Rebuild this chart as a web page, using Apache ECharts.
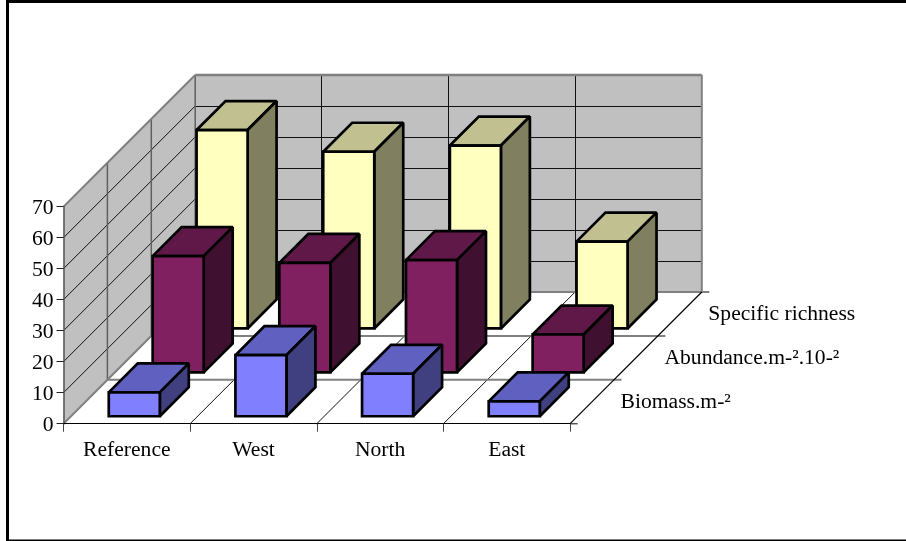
<!DOCTYPE html>
<html>
<head>
<meta charset="utf-8">
<style>html,body{margin:0;padding:0;background:#fff}#chart{width:906px;height:541px}</style>
<script src="https://cdn.jsdelivr.net/npm/echarts@6/dist/echarts.min.js"></script>
</head>
<body>
<div id="chart"></div>
<script>
// Sampling stations and the three measured variables
const categories = ['Reference', 'West', 'North', 'East'];
const seriesNames = ['Biomass.m-²', 'Abundance.m-².10-²', 'Specific richness'];
const biomass = [7.7, 19.7, 13.7, 4.8];
const abundance = [37.5, 35.3, 36.2, 12.2];
const richness = [64, 57, 59, 28];
const valueTicks = { min: 0, max: 70, interval: 10 };

// Oblique projection: one row of depth shifts right and up by the same amount
const ROW_DEPTH = 43.9;
const ROWS = 3;
const BAR_WIDTH_RATIO = 0.403;
const BAR_DEPTH_RATIO = 0.66;
const FONT = '"Liberation Serif", "Times New Roman", serif';
const FONT_SIZE = 21.6;

const palette = [
  { front: '#8080ff', top: '#6060c0', side: '#404080' },
  { front: '#802060', top: '#601848', side: '#401030' },
  { front: '#ffffc0', top: '#c0c090', side: '#808060' }
];

const line = (x1, y1, x2, y2, stroke, lineWidth) => ({
  type: 'line', silent: true,
  shape: { x1, y1, x2, y2 },
  style: { stroke, lineWidth, fill: null }
});
const poly = (points, fill, stroke, lineWidth) => ({
  type: 'polygon', silent: true,
  shape: { points },
  style: { fill, stroke, lineWidth, lineJoin: 'miter', miterLimit: 2 }
});
// Centre a thin straight line on a pixel row or column so it stays crisp
const snapRound = (p) => Math.round(p) + 0.5;
const snapFloor = (p) => Math.floor(p) + 0.5;

// Walls, floor and their gridlines, all placed from the axes' scales
function renderBox(params, api) {
  const cs = params.coordSys;
  const D = ROW_DEPTH * ROWS;
  const x0 = cs.x, x1 = cs.x + cs.width;
  const y0 = api.coord([0, valueTicks.min])[1];
  const yTop = api.coord([0, valueTicks.max])[1];
  const step = cs.width / categories.length;
  const kids = [];

  kids.push(poly([[x0, y0], [x1, y0], [x1 + D, y0 - D], [x0 + D, y0 - D]], '#ffffff', null, 0));
  kids.push(poly([[x0 + D, y0 - D], [x1 + D, y0 - D], [x1 + D, yTop - D], [x0 + D, yTop - D]], '#c0c0c0', null, 0));
  kids.push(poly([[x0, y0], [x0 + D, y0 - D], [x0 + D, yTop - D], [x0, yTop]], '#c0c0c0', null, 0));

  // value gridlines across the side wall and back wall
  for (let v = valueTicks.min + valueTicks.interval; v < valueTicks.max; v += valueTicks.interval) {
    const y = api.coord([0, v])[1];
    const yBack = snapRound(y - D);
    kids.push(line(x0, y, x0 + D, y - D, '#111', 1));
    kids.push(line(x0 + D, yBack, x1 + D, yBack, '#111', 1));
  }
  // category gridlines across the floor and back wall
  for (let c = 1; c < categories.length; c++) {
    const x = x0 + c * step;
    const xBack = snapFloor(x + D);
    kids.push(line(x, y0, x + D, y0 - D, '#111', 1));
    kids.push(line(xBack, y0 - D, xBack, yTop - D, '#111', 1));
  }
  // depth gridlines across the side wall and floor, with their ticks
  for (let r = 1; r <= ROWS; r++) {
    const d = r * ROW_DEPTH;
    kids.push(line(x0 + d, y0 - d, x0 + d, yTop - d, '#606060', 1.5));
    kids.push(line(x0 + d, y0 - d, x1 + d + 7.5, y0 - d, '#808080', 2));
  }
  kids.push(line(x1, y0, x1 + 7.5, y0, '#555', 1.5));
  kids.push(line(x0, y0, x0 + D, y0 - D, '#808080', 2));
  kids.push(line(x0, yTop, x0 + D, yTop - D, '#808080', 2));
  kids.push(line(x0 + D, yTop - D, x1 + D, yTop - D, '#808080', 2.5));
  kids.push(line(x1 + D, yTop - D, x1 + D, y0 - D, '#808080', 2));
  kids.push(line(x1, y0, x1 + D, y0 - D, '#000', 1.2));

  // row names beside the floor's right edge
  seriesNames.forEach((name, r) => {
    const d = (r + 0.5) * ROW_DEPTH;
    kids.push({
      type: 'text', silent: true,
      style: {
        text: name, x: x1 + d + 28.5, y: y0 - d + 0.8,
        fill: '#000', font: FONT_SIZE + 'px ' + FONT,
        textAlign: 'left', textVerticalAlign: 'middle'
      }
    });
  });
  return { type: 'group', children: kids };
}

// One extruded bar standing in a given depth row
function barRenderer(row) {
  return function (params, api) {
    const colors = palette[row];
    const i = api.value(0), v = api.value(1);
    const w = api.size([1, 0])[0] * BAR_WIDTH_RATIO;
    const depth = ROW_DEPTH * BAR_DEPTH_RATIO;
    const inset = (ROW_DEPTH - depth) / 2;
    const shift = row * ROW_DEPTH + inset;
    const base = api.coord([i, 0]);
    const head = api.coord([i, v]);
    const l = base[0] - w / 2 + shift, r = l + w;
    const b = base[1] - shift, t = head[1] - shift;
    const sw = 2.7;
    return {
      type: 'group',
      children: [
        poly([[l, t], [r, t], [r + depth, t - depth], [l + depth, t - depth]], colors.top, '#000', sw),
        poly([[r, t], [r + depth, t - depth], [r + depth, b - depth], [r, b]], colors.side, '#000', sw),
        poly([[l, t], [r, t], [r, b], [l, b]], colors.front, '#000', sw)
      ]
    };
  };
}

const barSeries = [richness, abundance, biomass].map((values, k) => ({
  type: 'custom',
  name: seriesNames[ROWS - 1 - k],
  coordinateSystem: 'cartesian2d',
  clip: false,
  z: 3,
  encode: { x: 0, y: 1 },
  data: values.map((v, i) => [i, v]),
  renderItem: barRenderer(ROWS - 1 - k)
}));

const chart = echarts.init(document.getElementById('chart'), null, { renderer: 'canvas' });
chart.setOption({
  animation: false,
  backgroundColor: '#ffffff',
  grid: { left: 63.5, top: 206.7, width: 506.6, height: 217 },
  xAxis: {
    type: 'category',
    data: categories,
    z: 4,
    axisLine: { lineStyle: { color: '#000', width: 1.2 } },
    axisTick: { show: true, alignWithLabel: false, length: 8, lineStyle: { color: '#444', width: 1 } },
    axisLabel: { color: '#000', fontFamily: FONT, fontSize: FONT_SIZE, margin: 16, interval: 0 },
    splitLine: { show: false }
  },
  yAxis: {
    type: 'value',
    min: valueTicks.min, max: valueTicks.max, interval: valueTicks.interval,
    z: 4,
    axisLine: { show: true, lineStyle: { color: '#555', width: 1.5 } },
    axisTick: { show: true, length: 7, lineStyle: { color: '#222', width: 1 } },
    axisLabel: { color: '#000', fontFamily: FONT, fontSize: FONT_SIZE, margin: 10, verticalAlign: 'top', lineHeight: 4 },
    splitLine: { show: false }
  },
  graphic: [{
    type: 'rect', silent: true, z: 10,
    shape: { x: 7.5, y: 1.5, width: 920, height: 539.5 },
    style: { fill: 'none', stroke: '#000', lineWidth: 3 }
  }],
  series: [{
    type: 'custom',
    coordinateSystem: 'cartesian2d',
    clip: false,
    silent: true,
    z: 1,
    data: [[0, 0]],
    encode: { x: 0, y: 1 },
    renderItem: renderBox
  }].concat(barSeries)
});
</script>
</body>
</html>
